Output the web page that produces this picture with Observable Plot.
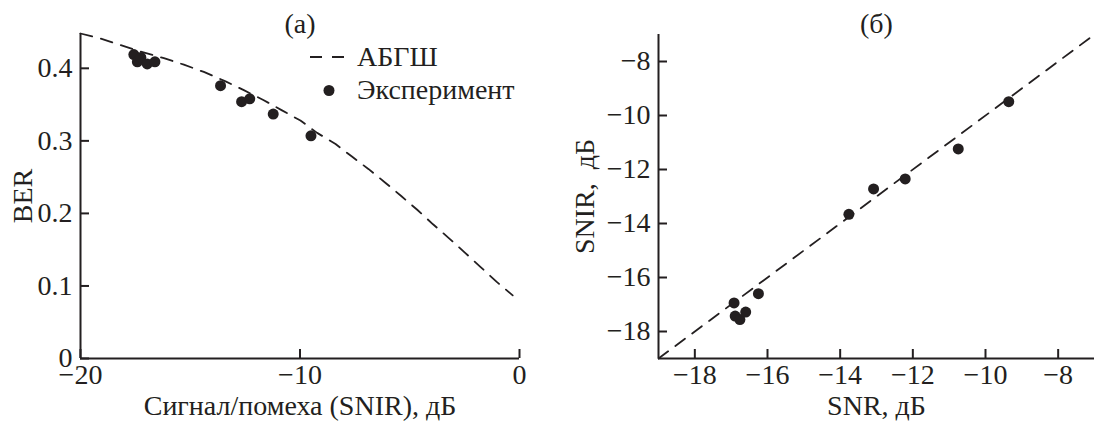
<!DOCTYPE html>
<html><head><meta charset="utf-8">
<script src="https://cdn.jsdelivr.net/npm/d3@7"></script>
<script src="https://cdn.jsdelivr.net/npm/@observablehq/plot@0.6"></script>
<style>
body{margin:0;background:#fff;}
#wrap{position:relative;width:1094px;height:423px;overflow:hidden;font-family:"Liberation Serif","Times New Roman",serif;color:#231f20;}
#wrap > svg{position:absolute;top:0;}
#wrap svg, #wrap svg text{font-family:"Liberation Serif","Times New Roman",serif !important;}
</style></head><body><div id="wrap"></div>
<script>
// Panel (а): AWGN theory curve (dashed)
const awgnSnir = [-20, -19.09, -18.18, -17.27, -16.2, -15.29, -14.38, -13.39, -12.56, -11.65, -10.82, -9.98, -9.22, -8.38, -7.62, -6.87, -6.1, -5.39, -4.66, -3.94, -3.22, -2.49, -1.77, -1.05, -0.31];
const awgnBer  = [0.448, 0.441, 0.432, 0.423, 0.414, 0.405, 0.395, 0.382, 0.370, 0.356, 0.342, 0.328, 0.311, 0.2956, 0.278, 0.261, 0.242, 0.224, 0.205, 0.185, 0.166, 0.146, 0.126, 0.106, 0.087];
// Panel (а): experiment points
const expSnir = [-17.57, -17.41, -17.25, -16.96, -16.61, -13.62, -12.66, -12.29, -11.22, -9.5];
const expBer  = [0.419, 0.409, 0.415, 0.406, 0.409, 0.376, 0.354, 0.358, 0.337, 0.307];
// Panel (б): SNR vs SNIR points
const snrB  = [-9.36, -10.75, -12.21, -13.08, -13.76, -16.25, -16.92, -16.89, -16.76, -16.6];
const snirB = [-9.49, -11.24, -12.35, -12.72, -13.66, -16.6, -16.94, -17.43, -17.56, -17.28];
// Panel (б): reference line SNIR = SNR
const diag = [-19, -7];
// ticks and texts
const ticksAx = [-20, -10, 0];
const ticksAy = [0, 0.1, 0.2, 0.3, 0.4];
const ticksB = [-18, -16, -14, -12, -10, -8];
const titles = ["(а)", "(б)"];
const labelsA = ["Сигнал/помеха (SNIR), дБ", "BER"];
const labelsB = ["SNR, дБ", "SNIR,  дБ"];
const legendLabels = ["АБГШ", "Эксперимент"];

const ink = "#231f20";
const FS = 28;
const fmt = d => (d < 0 ? "\u2212" : "") + String(Math.abs(d));
const baseStyle = {fontFamily: '"Liberation Serif", "Times New Roman", serif', fontSize: FS + "px", color: ink, background: "transparent", overflow: "visible"};

const awgn = awgnSnir.map((x, i) => ({x, y: awgnBer[i]}));
const expA = expSnir.map((x, i) => ({x, y: expBer[i]}));
const ptsB = snrB.map((x, i) => ({x, y: snirB[i]}));
const diagData = diag.map(v => ({x: v, y: v}));

const txt = {fontSize: FS, fill: ink, textAnchor: "middle", lineAnchor: "middle"};

const left = Plot.plot({
  width: 560, height: 423,
  marginLeft: 80, marginRight: 41, marginTop: 33, marginBottom: 65,
  style: baseStyle,
  x: {domain: [-20, 0]},
  y: {domain: [0, 0.448]},
  marks: [
    Plot.axisX(ticksAx, {tickSize: -9, tickPadding: 15, tickFormat: fmt, label: null, strokeWidth: 2, fontSize: FS}),
    Plot.axisY(ticksAy, {tickSize: -9, tickPadding: 17, tickFormat: fmt, label: null, strokeWidth: 2, fontSize: FS}),
    Plot.ruleX([-20], {stroke: ink, strokeWidth: 2}),
    Plot.ruleY([0], {stroke: ink, strokeWidth: 2}),
    Plot.line(awgn, {x: "x", y: "y", stroke: ink, strokeWidth: 1.8, strokeDasharray: "12,9"}),
    Plot.dot(expA, {x: "x", y: "y", r: 5.5, fill: ink, stroke: null}),
    Plot.text([labelsA[0]], {...txt, frameAnchor: "bottom", dy: 48}),
    Plot.text([labelsA[1]], {...txt, frameAnchor: "left", rotate: -90, dx: -57}),
    Plot.text([titles[0]], {...txt, frameAnchor: "top", dy: -9})
  ]
});
left.style.left = "0px";

const right = Plot.plot({
  width: 534, height: 423,
  marginLeft: 98, marginRight: 0, marginTop: 34, marginBottom: 65,
  style: baseStyle,
  x: {domain: [-19, -7]},
  y: {domain: [-19, -7]},
  marks: [
    Plot.axisX(ticksB, {tickSize: -9, tickPadding: 15, tickFormat: fmt, label: null, strokeWidth: 2, fontSize: FS}),
    Plot.axisY(ticksB, {tickSize: -9, tickPadding: 17, tickFormat: fmt, label: null, strokeWidth: 2, fontSize: FS}),
    Plot.ruleX([-19], {stroke: ink, strokeWidth: 2}),
    Plot.ruleY([-19], {stroke: ink, strokeWidth: 2}),
    Plot.line(diagData, {x: "x", y: "y", stroke: ink, strokeWidth: 1.8, strokeDasharray: "12,9"}),
    Plot.dot(ptsB, {x: "x", y: "y", r: 5.5, fill: ink, stroke: null}),
    Plot.text([labelsB[0]], {...txt, frameAnchor: "bottom", dy: 48}),
    Plot.text([labelsB[1]], {...txt, frameAnchor: "left", rotate: -90, dx: -73}),
    Plot.text([titles[1]], {...txt, frameAnchor: "top", dy: -10})
  ]
});
right.style.left = "560px";

const wrap = document.getElementById("wrap");
wrap.appendChild(left);
wrap.appendChild(right);

// legend for panel (а)
const lg = d3.create("svg").attr("width", 560).attr("height", 120)
  .style("position", "absolute").style("left", "0px").style("top", "0px");
lg.append("line").attr("x1", 310).attr("x2", 344).attr("y1", 57).attr("y2", 57)
  .attr("stroke", ink).attr("stroke-width", 2).attr("stroke-dasharray", "12,10");
lg.append("text").attr("x", 357).attr("y", 66).text(legendLabels[0])
  .attr("font-size", FS).attr("fill", ink);
lg.append("circle").attr("cx", 329).attr("cy", 90.5).attr("r", 5.5).attr("fill", ink);
lg.append("text").attr("x", 357).attr("y", 99).text(legendLabels[1])
  .attr("font-size", FS).attr("fill", ink);
wrap.appendChild(lg.node());
</script>
</body></html>
